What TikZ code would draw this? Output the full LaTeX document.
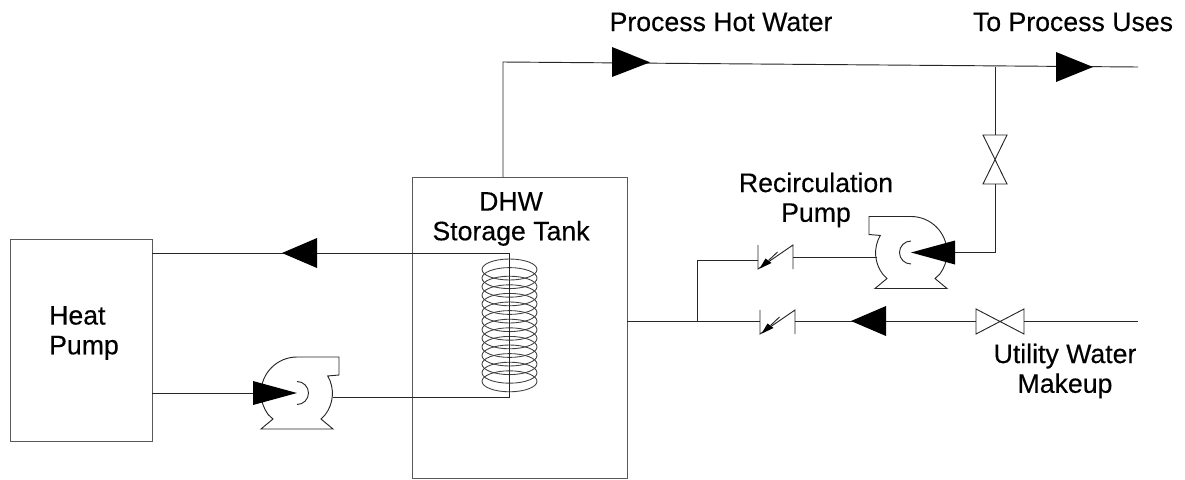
\documentclass[tikz,border=0pt]{standalone}
\usepackage{fontspec}
\setmainfont[FakeBold=0.3]{Liberation Sans}
\tikzset{
  pipe/.style={draw=black!85,line width=0.7pt,line join=miter},
  vessel/.style={draw=black!65,line width=0.95pt,inner sep=0pt},
  lbl/.style={align=center,inner sep=0pt,font=\fontsize{20}{22.3}\selectfont,text=black},
  flow/.style={fill=black,draw=none},
  pics/pump/.style={code={
    \draw[pipe] (0,-36) arc[start angle=270,end angle=143,radius=36] -- (-24,26) -- (-36,36) -- (36,36) -- (24,26)
      -- (28,22) arc[start angle=38,end angle=-30,radius=35] -- (42,-18) -- (42,-36) -- (0,-36);
    \draw[pipe] (0,-11.5) arc[start angle=-90,end angle=90,radius=11.5];
    \fill[flow] (0,0) -- (-44,-12) -- (-44,12) -- cycle;
  }},
  pics/checkv/.style={code={
    \draw[pipe] (-17.5,-12) -- (-17.5,12) -- (17.5,-12) -- (17.5,12);
    \fill[flow] (-16,11.7) -- (-10,1.5) -- (-4,6) -- cycle;
    \draw[pipe] (-7,3.5) -- (2,-5);
  }}
}
\newcommand{\flowtri}[3]{\fill[flow] (#1,#3) -- (#2,#3-15) -- (#2,#3+15) -- cycle;}
\begin{document}
\begin{tikzpicture}[x=0.75pt,y=-0.75pt]
\useasboundingbox (0,0) rectangle (1185,479);
% vessels
\node[vessel,draw,minimum width=161.25pt,minimum height=225.75pt,anchor=north west] (tank) at (412,177) {};
\node[vessel,draw,minimum width=106.5pt,minimum height=151.5pt,anchor=north west] (hp) at (10,239) {};
% coil
\foreach \i in {0,...,13} {
  \draw[draw=black!75,line width=0.65pt] (509.5,269.5+8.6*\i) ellipse[x radius=27.5,y radius=10.5];
}
% key points
\coordinate (hpOut) at (152,253);
\coordinate (coilTop) at (509.5,253);
\coordinate (coilBot) at (509.5,397);
\coordinate (p1out) at (333,397);
\coordinate (hpIn) at (152,393);
\coordinate (p1in) at (253,393);
\coordinate (tankTop) at (503,177);
\coordinate (corner) at (503,62);
\coordinate (hwEnd) at (1138,67);
\coordinate (junc) at (995,66.6);
\coordinate (vTop) at (995,135);
\coordinate (vBot) at (995,184);
\coordinate (elbow) at (995,252.5);
\coordinate (p2in) at (955,252.5);
\coordinate (p2out) at (877,257);
\coordinate (c1r) at (793,257);
\coordinate (c1l) at (758,260);
\coordinate (tee2) at (697,260);
\coordinate (tee) at (697,321);
\coordinate (tankOut) at (627,321);
\coordinate (c2l) at (760,321);
\coordinate (c2r) at (795,321);
\coordinate (v3l) at (976,321);
\coordinate (v3r) at (1024,321);
\coordinate (utilEnd) at (1138,321);
% pipes
\draw[pipe] (hpOut) -- (coilTop) -- (coilBot) -- (p1out);
\draw[pipe] (hpIn) -- (p1in);
\draw[pipe] (tankTop) -- (corner) -- (hwEnd);
\draw[pipe] (junc) -- (vTop);
\draw[pipe] (vBot) -- (elbow) -- (p2in);
\draw[pipe] (p2out) -- (c1r);
\draw[pipe] (c1l) -- (tee2) -- (tee);
\draw[pipe] (tankOut) -- (c2l);
\draw[pipe] (c2r) -- (v3l);
\draw[pipe] (v3r) -- (utilEnd);
% valves
\draw[pipe] (983,135) -- (1007,135) -- (983,184) -- (1007,184) -- cycle;
\draw[pipe] (976,309) -- (1024,334) -- (1024,309) -- (976,334) -- cycle;
% check valves
\pic at (775.5,257) {checkv};
\pic at (777.5,322) {checkv};
% pumps
\pic at (297,393) {pump};
\pic[xscale=-1] at (911,252.5) {pump};
% flow arrows
\flowtri{282}{317}{253}
\flowtri{851}{886}{321}
\fill[flow] (650,62.3) -- (612,47) -- (612,77) -- cycle;
\fill[flow] (1093,67) -- (1056,52) -- (1056,82) -- cycle;
% labels
\node[lbl] (l1) at (721,22) {Process Hot Water};
\node[lbl] (l2) at (1073,22) {To Process Uses};
\node[lbl] (l3) at (511,219) {DHW\\Storage Tank};
\node[lbl] (l4) at (816,200) {Recirculation\\Pump};
\node[lbl,align=left] (l5) at (84,333) {Heat\\Pump};
\node[lbl] (l6) at (1065,371) {Utility Water\\Makeup};
\end{tikzpicture}
\end{document}
